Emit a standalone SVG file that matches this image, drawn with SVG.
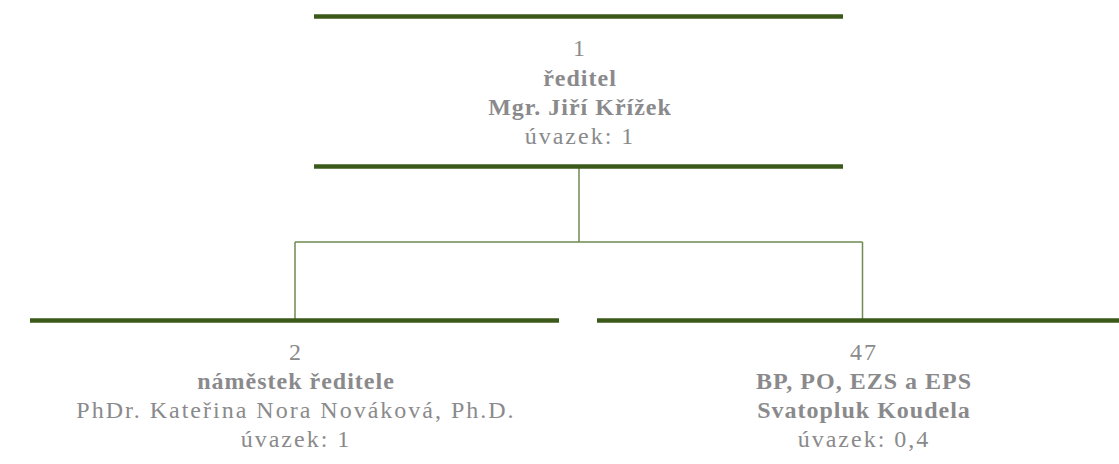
<svg xmlns="http://www.w3.org/2000/svg" width="1119" height="464" viewBox="0 0 1119 464">
<style>
.bar{stroke:#3b5a1a;stroke-width:4.5;fill:none}
.con{stroke:#6f8c52;stroke-width:1.5;fill:none}
text{font-family:"Liberation Serif",serif;font-size:24px;fill:#8a8a8c;text-anchor:middle;letter-spacing:2px}
.b{font-weight:bold;letter-spacing:1px}
</style>
<rect width="1119" height="464" fill="#fff"/>
<g id="connectors">
<path class="con" d="M579 167V242M295 242H862.5M295 242V320M862.5 242V320"/>
</g>
<g id="node1">
<line class="bar" x1="314" y1="16.5" x2="843" y2="16.5"/>
<line class="bar" x1="314" y1="166.5" x2="843" y2="166.5"/>
<text x="580" y="56">1</text>
<text class="b" x="580" y="86">ředitel</text>
<text class="b" x="580" y="115">Mgr. Jiří Křížek</text>
<text x="580" y="144">úvazek: 1</text>
</g>
<g id="node2">
<line class="bar" x1="30" y1="320.5" x2="559" y2="320.5"/>
<text x="296" y="360">2</text>
<text class="b" x="296" y="389">náměstek ředitele</text>
<text x="296" y="418">PhDr. Kateřina Nora Nováková, Ph.D.</text>
<text x="296" y="447">úvazek: 1</text>
</g>
<g id="node47">
<line class="bar" x1="597" y1="320.5" x2="1119" y2="320.5"/>
<text x="864" y="360">47</text>
<text class="b" x="864" y="389">BP, PO, EZS a EPS</text>
<text class="b" x="864" y="418">Svatopluk Koudela</text>
<text x="864" y="447">úvazek: 0,4</text>
</g>
</svg>
